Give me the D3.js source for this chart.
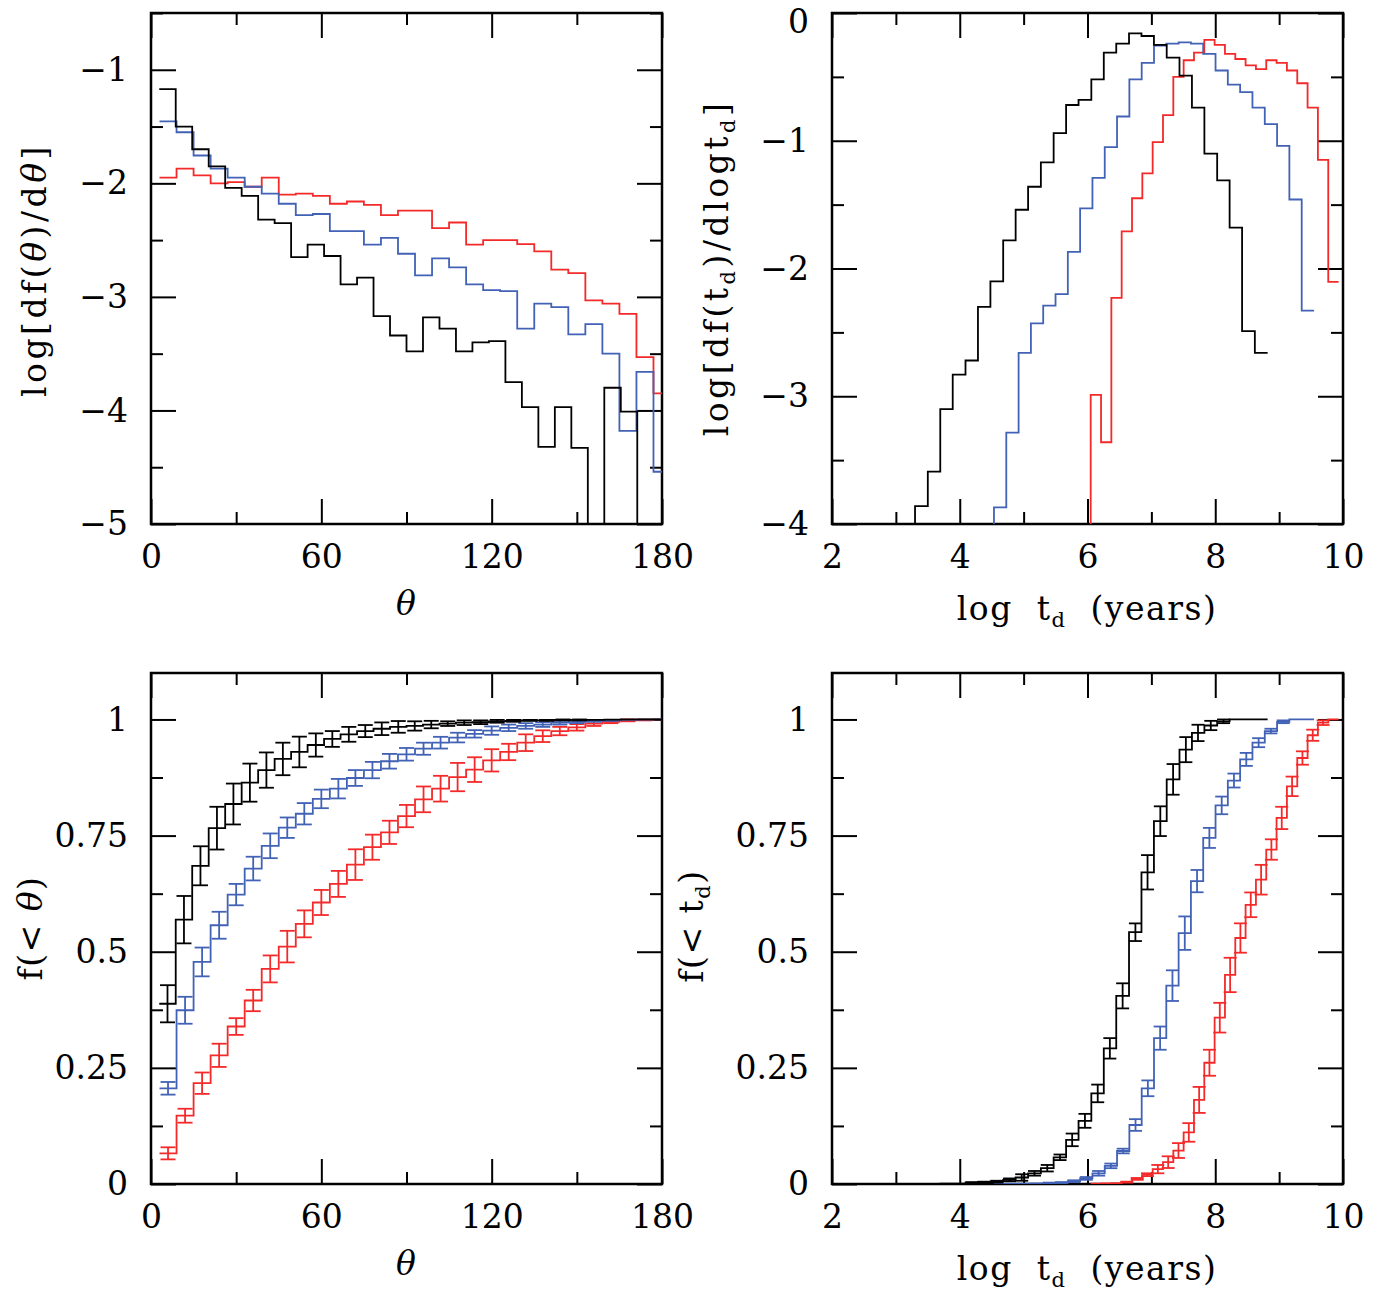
<!DOCTYPE html>
<html>
  <head>
    <meta charset="utf-8" />
    <title>Angle and delay-time distributions</title>
    <script src="https://d3js.org/d3.v7.min.js"></script>
    <style>
      body { margin: 0; background: #fff; }
    </style>
  </head>

  <body>
    <script>
      // ---- bin centres ----
      // theta bins (deg); the black sample uses a slightly narrower binning
      let thetaMidBlack = [5.81, 11.61, 17.42, 23.23, 29.03, 34.84, 40.65, 46.45, 52.26, 58.06,
        63.87, 69.68, 75.48, 81.29, 87.10, 92.90, 98.71, 104.52, 110.32, 116.13,
        121.94, 127.74, 133.55, 139.35, 145.16, 150.97, 156.77, 162.58, 168.39, 174.19, 180.0];
      let thetaMid = [6, 12, 18, 24, 30, 36, 42, 48, 54, 60, 66, 72, 78, 84, 90,
        96, 102, 108, 114, 120, 126, 132, 138, 144, 150, 156, 162, 168, 174, 180];

      // log t_d bins (years)
      let tdMidBlack = [3.40, 3.60, 3.79, 3.99, 4.19, 4.38, 4.58, 4.78, 4.97, 5.17, 5.37, 5.57,
        5.76, 5.96, 6.16, 6.35, 6.55, 6.75, 6.94, 7.14, 7.34, 7.54, 7.73, 7.93, 8.13, 8.32, 8.52, 8.72];
      let tdMidBlue = [4.632, 4.825, 5.018, 5.210, 5.403, 5.596, 5.788, 5.981, 6.174, 6.366,
        6.559, 6.752, 6.945, 7.137, 7.330, 7.523, 7.715, 7.908, 8.101, 8.293, 8.486, 8.679,
        8.872, 9.064, 9.257, 9.450];
      let tdMidRed = [6.131, 6.293, 6.454, 6.616, 6.778, 6.939, 7.101, 7.263, 7.424, 7.586,
        7.748, 7.909, 8.071, 8.233, 8.394, 8.556, 8.718, 8.879, 9.041, 9.203, 9.365, 9.526,
        9.688, 9.850];

      // ---- top left: log[df(theta)/dtheta]  (null = empty bin) ----
      let histThetaBlack = [-1.17, -1.50, -1.70, -1.85, -2.04, -2.11, -2.32, -2.35, -2.65, -2.54,
        -2.64, -2.89, -2.83, -3.17, -3.34, -3.48, -3.18, -3.28, -3.48, -3.40, -3.39, -3.75,
        -3.97, -4.32, -3.97, -4.33, null, -3.80, -4.01, null, null];
      let histThetaBlue = [-1.455, -1.55, -1.755, -1.87, -1.95, -2.03, -2.09, -2.18, -2.28, -2.27,
        -2.42, -2.42, -2.54, -2.48, -2.62, -2.81, -2.66, -2.74, -2.89, -2.94, -2.95, -3.28,
        -3.06, -3.09, -3.33, -3.24, -3.50, -4.18, -3.66, -4.54];
      let histThetaRed = [-1.95, -1.87, -1.93, -2.00, -1.99, -2.03, -1.95, -2.10, -2.09, -2.11,
        -2.18, -2.16, -2.19, -2.28, -2.24, -2.24, -2.395, -2.345, -2.54, -2.50, -2.50, -2.535,
        -2.60, -2.76, -2.79, -3.03, -3.06, -3.15, -3.53, -3.85];

      // ---- top right: log[df(t_d)/dlog t_d] ----
      let histTdBlack = [-3.86, -3.59, -3.10, -2.83, -2.72, -2.30, -2.10, -1.78, -1.54, -1.36,
        -1.17, -0.94, -0.72, -0.68, -0.52, -0.31, -0.24, -0.16, -0.18, -0.25, -0.35, -0.49,
        -0.74, -1.10, -1.31, -1.68, -2.49, -2.66];
      let histTdBlue = [-3.87, -3.285, -2.66, -2.43, -2.29, -2.20, -1.87, -1.53, -1.29, -1.05,
        -0.81, -0.52, -0.39, -0.255, -0.24, -0.23, -0.24, -0.32, -0.45, -0.56, -0.62, -0.74,
        -0.87, -1.04, -1.46, -2.33];
      let histTdRed = [-2.99, -3.36, -2.23, -1.71, -1.45, -1.255, -1.01, -0.80, -0.50, -0.37,
        -0.31, -0.21, -0.25, -0.32, -0.36, -0.41, -0.44, -0.37, -0.39, -0.45, -0.55, -0.74,
        -1.15, -2.105];

      // ---- bottom left: f(< theta) with errors ----
      let cumThetaBlack = [0.388, 0.569, 0.685, 0.766, 0.818, 0.864, 0.891, 0.915, 0.930, 0.945,
        0.958, 0.968, 0.975, 0.980, 0.984, 0.986, 0.989, 0.991, 0.993, 0.994, 0.996, 0.997,
        0.998, 0.998, 0.999, 0.999, 0.999, 0.9995, 1, 1, 1];
      let errThetaBlack = [0.040, 0.051, 0.042, 0.046, 0.044, 0.041, 0.038, 0.035, 0.033, 0.025,
        0.017, 0.016, 0.013, 0.0136, 0.0126, 0.010, 0.008, 0.005, 0.005, 0.004, 0.003, 0.002,
        0.001, 0.001, 0.001, 0.001, 0, 0, 0, 0, 0];
      let cumThetaBlue = [0.206, 0.374, 0.478, 0.557, 0.623, 0.679, 0.728, 0.767, 0.797, 0.829,
        0.851, 0.874, 0.891, 0.910, 0.925, 0.937, 0.950, 0.961, 0.969, 0.976, 0.982, 0.986,
        0.989, 0.993, 0.995, 0.997, 0.998, 0.999, 0.9995, 1];
      let errThetaBlue = [0.0136, 0.029, 0.031, 0.029, 0.023, 0.0255, 0.0266, 0.022, 0.023, 0.020,
        0.021, 0.017, 0.0176, 0.0158, 0.0136, 0.013, 0.0126, 0.0104, 0.008, 0.009, 0.007, 0.006,
        0.005, 0.004, 0.003, 0.002, 0.001, 0, 0, 0];
      let cumThetaRed = [0.066, 0.147, 0.217, 0.277, 0.339, 0.395, 0.463, 0.511, 0.560, 0.606,
        0.646, 0.6875, 0.725, 0.757, 0.792, 0.828, 0.851, 0.876, 0.892, 0.912, 0.930, 0.950,
        0.964, 0.975, 0.983, 0.991, 0.995, 0.998, 0.999, 1];
      let errThetaRed = [0.013, 0.015, 0.023, 0.025, 0.018, 0.023, 0.029, 0.034, 0.029, 0.027,
        0.028, 0.033, 0.027, 0.025, 0.024, 0.0277, 0.0277, 0.0305, 0.0266, 0.024, 0.0176, 0.018,
        0.0126, 0.009, 0.007, 0.005, 0.003, 0.002, 0.001, 0];

      // ---- bottom right: f(< t_d) with errors ----
      let cumTdBlack = [0.0001, 0.0002, 0.0005, 0.001, 0.003, 0.004, 0.005, 0.009, 0.014, 0.023,
        0.034, 0.0575, 0.095, 0.136, 0.195, 0.292, 0.405, 0.542, 0.671, 0.781, 0.871, 0.935,
        0.971, 0.987, 0.996, 1, 1, 1];
      let errTdBlack = [0, 0, 0, 0, 0.001, 0.001, 0.002, 0.003, 0.007, 0.005, 0.007, 0.006,
        0.0136, 0.015, 0.019, 0.022, 0.027, 0.019, 0.037, 0.032, 0.033, 0.027, 0.0176, 0.010,
        0.004, 0, 0, 0];
      let cumTdBlue = [0.0002, 0.0006, 0.001, 0.0015, 0.002, 0.003, 0.006, 0.012, 0.023, 0.039,
        0.071, 0.127, 0.206, 0.314, 0.427, 0.540, 0.652, 0.745, 0.815, 0.8685, 0.914, 0.950,
        0.975, 0.995, 1, 1];
      let errTdBlue = [0, 0, 0, 0, 0.001, 0.001, 0.002, 0.003, 0.005, 0.005, 0.005, 0.0126,
        0.017, 0.025, 0.033, 0.036, 0.024, 0.0216, 0.019, 0.015, 0.014, 0.0097, 0.005, 0.003, 0, 0];
      let cumTdRed = [0.001, 0.0015, 0.002, 0.004, 0.011, 0.020, 0.032, 0.047, 0.072, 0.111,
        0.181, 0.261, 0.358, 0.450, 0.5295, 0.601, 0.655, 0.720, 0.788, 0.856, 0.917, 0.966,
        0.993, 1];
      let errTdRed = [0, 0, 0, 0.001, 0.002, 0.003, 0.009, 0.0126, 0.016, 0.020, 0.028, 0.028,
        0.032, 0.037, 0.0316, 0.0266, 0.032, 0.022, 0.024, 0.021, 0.0144, 0.012, 0.005, 0];

      // ---- ticks ----
      let thetaMajor = [0, 60, 120, 180];
      let thetaMinor = [30, 90, 150];
      let tdMajor = [2, 4, 6, 8, 10];
      let tdMinor = [3, 5, 7, 9];
      let histThetaMajor = [-1, -2, -3, -4, -5];
      let histThetaMinor = [-0.5, -1.5, -2.5, -3.5, -4.5];
      let histTdMajor = [0, -1, -2, -3, -4];
      let histTdMinor = [-0.5, -1.5, -2.5, -3.5];
      let cumMajor = [0, 0.25, 0.5, 0.75, 1];
      let cumMinor = [0.125, 0.375, 0.625, 0.875];

      const colBlack = "#000000";
      const colBlue = "#4262b6";
      const colRed = "#f42a2a";
      const font = "DejaVu Serif";
      const size = 511;

      let svg = d3
        .select("body")
        .append("svg")
        .attr("width", 1388)
        .attr("height", 1297)
        .attr("font-family", font);
      svg.append("rect").attr("width", 1388).attr("height", 1297).attr("fill", "#fff");
      let defs = svg.append("defs");

      // builds one panel: scales, inward ticks on all four sides, frame
      function makePanel(id, left, top, xDom, yDom, xMaj, xMin, yMaj, yMin, yFmt) {
        let x = d3.scaleLinear().domain(xDom).range([0, size]);
        let y = d3.scaleLinear().domain(yDom).range([size, 0]);
        let g = svg.append("g").attr("transform", `translate(${left},${top})`);

        defs.append("clipPath").attr("id", "clip-" + id)
          .append("rect").attr("width", size).attr("height", size);

        function put(axis, tx, ty, labels) {
          let a = g.append("g").attr("transform", `translate(${tx},${ty})`).call(axis);
          a.select(".domain").remove();
          a.selectAll("line").attr("stroke-width", 2);
          a.attr("font-family", font).attr("font-size", 33);
          if (!labels) a.selectAll("text").remove();
          return a;
        }
        // bottom / top
        put(d3.axisBottom(x).tickValues(xMaj).tickSize(-25).tickSizeOuter(0)
          .tickPadding(21).tickFormat(d3.format("~g")), 0, size, true);
        put(d3.axisBottom(x).tickValues(xMin).tickSize(-12).tickSizeOuter(0), 0, size, false);
        put(d3.axisTop(x).tickValues(xMaj).tickSize(-25).tickSizeOuter(0), 0, 0, false);
        put(d3.axisTop(x).tickValues(xMin).tickSize(-12).tickSizeOuter(0), 0, 0, false);
        // left / right
        let yl = put(d3.axisLeft(y).tickValues(yMaj).tickSize(-25).tickSizeOuter(0)
          .tickPadding(23).tickFormat(yFmt), 0, 0, true);
        // a label sitting on the top edge is nudged down so it stays on the page
        yl.selectAll("text").filter((d) => d === yDom[1]).attr("dy", "0.58em");
        put(d3.axisLeft(y).tickValues(yMin).tickSize(-12).tickSizeOuter(0), 0, 0, false);
        put(d3.axisRight(y).tickValues(yMaj).tickSize(-25).tickSizeOuter(0), size, 0, false);
        put(d3.axisRight(y).tickValues(yMin).tickSize(-12).tickSizeOuter(0), size, 0, false);

        g.append("rect").attr("width", size).attr("height", size)
          .attr("fill", "none").attr("stroke", "#000").attr("stroke-width", 2.5);

        let plot = g.append("g").attr("clip-path", `url(#clip-${id})`);
        return { g, plot, x, y };
      }

      // bin edges from bin centres
      function edgesOf(mid) {
        let e = [mid[0] - (mid[1] - mid[0]) / 2];
        for (let i = 1; i < mid.length; i++) e.push((mid[i - 1] + mid[i]) / 2);
        let n = mid.length;
        e.push(mid[n - 1] + (mid[n - 1] - mid[n - 2]) / 2);
        return e;
      }

      // histogram-style step line; empty bins drop below the frame
      function drawStep(p, mid, vals, color, riseFromFloor) {
        let e = edgesOf(mid);
        let floor = p.y.domain()[0] - 3;
        let pts = [];
        if (riseFromFloor) pts.push([e[0], floor]);
        vals.forEach(function (v, i) {
          let vv = v === null ? floor : v;
          pts.push([e[i], vv], [e[i + 1], vv]);
        });
        let line = d3.line().x((d) => p.x(d[0])).y((d) => p.y(d[1]));
        p.plot.append("path").attr("d", line(pts))
          .attr("fill", "none").attr("stroke", color)
          .attr("stroke-width", 1.8).attr("stroke-linejoin", "miter");
      }

      function drawErrors(p, mid, vals, errs, color, cap) {
        let data = mid.map((m, i) => ({ m: m, v: vals[i], e: errs[i] })).filter((d) => d.e > 0);
        let eg = p.plot.append("g").attr("stroke", color).attr("stroke-width", 1.8);
        eg.selectAll("line.bar").data(data).enter().append("line")
          .attr("x1", (d) => p.x(d.m)).attr("x2", (d) => p.x(d.m))
          .attr("y1", (d) => p.y(d.v - d.e)).attr("y2", (d) => p.y(d.v + d.e));
        [-1, 1].forEach(function (s) {
          eg.selectAll("line.cap" + s).data(data).enter().append("line")
            .attr("x1", (d) => p.x(d.m) - cap).attr("x2", (d) => p.x(d.m) + cap)
            .attr("y1", (d) => p.y(d.v + s * d.e)).attr("y2", (d) => p.y(d.v + s * d.e));
        });
      }

      let fmtLog = d3.format("d");
      let fmtCum = d3.format("~g");

      let tl = makePanel("tl", 151, 13, [0, 180], [-5, -0.5], thetaMajor, thetaMinor,
        histThetaMajor, histThetaMinor, fmtLog);
      let tr = makePanel("tr", 832, 13, [2, 10], [-4, 0], tdMajor, tdMinor,
        histTdMajor, histTdMinor, fmtLog);
      let bl = makePanel("bl", 151, 673, [0, 180], [0, 1.1], thetaMajor, thetaMinor,
        cumMajor, cumMinor, fmtCum);
      let br = makePanel("br", 832, 673, [2, 10], [0, 1.1], tdMajor, tdMinor,
        cumMajor, cumMinor, fmtCum);

      // top left
      drawStep(tl, thetaMid, histThetaRed, colRed, false);
      drawStep(tl, thetaMid, histThetaBlue, colBlue, false);
      drawStep(tl, thetaMidBlack, histThetaBlack, colBlack, false);

      // top right
      drawStep(tr, tdMidRed, histTdRed, colRed, true);
      drawStep(tr, tdMidBlue, histTdBlue, colBlue, true);
      drawStep(tr, tdMidBlack, histTdBlack, colBlack, true);

      // bottom left
      drawStep(bl, thetaMid, cumThetaRed, colRed, false);
      drawErrors(bl, thetaMid, cumThetaRed, errThetaRed, colRed, 7.5);
      drawStep(bl, thetaMid, cumThetaBlue, colBlue, false);
      drawErrors(bl, thetaMid, cumThetaBlue, errThetaBlue, colBlue, 7.5);
      drawStep(bl, thetaMidBlack, cumThetaBlack, colBlack, false);
      drawErrors(bl, thetaMidBlack, cumThetaBlack, errThetaBlack, colBlack, 7.5);

      // bottom right
      drawStep(br, tdMidRed, cumTdRed, colRed, false);
      drawErrors(br, tdMidRed, cumTdRed, errTdRed, colRed, 6.5);
      drawStep(br, tdMidBlue, cumTdBlue, colBlue, false);
      drawErrors(br, tdMidBlue, cumTdBlue, errTdBlue, colBlue, 6.5);
      drawStep(br, tdMidBlack, cumTdBlack, colBlack, false);
      drawErrors(br, tdMidBlack, cumTdBlack, errTdBlack, colBlack, 6.5);

      // ---- axis titles ----
      function title(x, y, rotate, spacing, parts) {
        let t = svg.append("text")
          .attr("transform", `translate(${x},${y})` + (rotate ? " rotate(-90)" : ""))
          .attr("text-anchor", "middle").attr("font-size", 33).attr("fill", "#000")
          .attr("letter-spacing", spacing)
          .attr("xml:space", "preserve").style("white-space", "pre");
        parts.forEach(function (p) {
          let s = t.append("tspan").text(p.t);
          if (p.i) s.attr("font-style", "italic");
          if (p.sub) s.attr("font-size", 21).attr("baseline-shift", "-32%");
        });
        return t;
      }

      title(406, 615, false, 0, [{ t: "θ", i: true }]);
      title(406, 1275, false, 0, [{ t: "θ", i: true }]);
      let tdTitle = [{ t: "log  t" }, { t: "d", sub: true }, { t: "  (years)" }];
      title(1087, 620, false, 1.5, tdTitle);
      title(1087, 1280, false, 1.5, tdTitle);

      title(46, 270, true, 3.5, [{ t: "log[df(" }, { t: "θ", i: true }, { t: ")/d" },
        { t: "θ", i: true }, { t: "]" }]);
      title(728, 268, true, 3.5, [{ t: "log[df(t" }, { t: "d", sub: true }, { t: ")/dlogt" },
        { t: "d", sub: true }, { t: "]" }]);
      title(42, 928, true, 1.5, [{ t: "f(< " }, { t: "θ", i: true }, { t: ")" }]);
      title(703, 926, true, 1.5, [{ t: "f(< t" }, { t: "d", sub: true }, { t: ")" }]);
    </script>
  </body>
</html>
